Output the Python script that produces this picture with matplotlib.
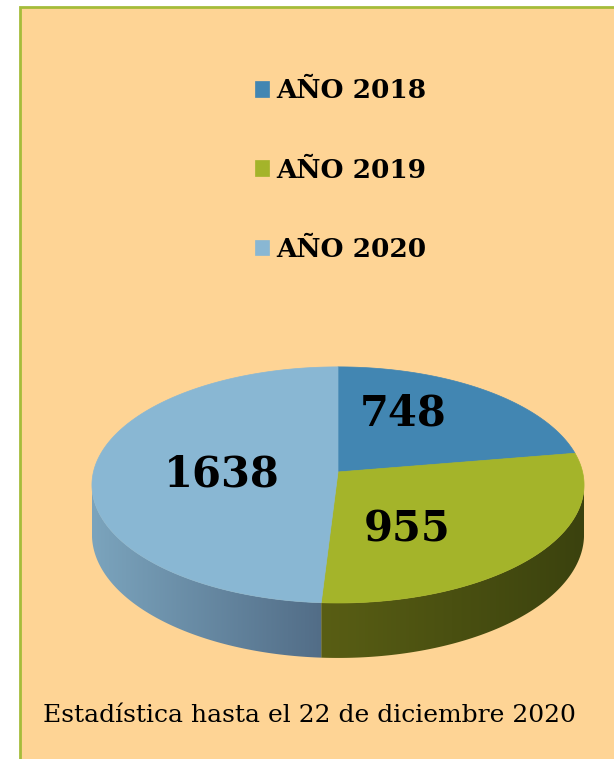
import numpy as np
import matplotlib.pyplot as plt
from matplotlib.patches import Polygon, Rectangle
from matplotlib.colors import LinearSegmentedColormap

# Datos
years = ['AÑO 2018', 'AÑO 2019', 'AÑO 2020']
counts = [748, 955, 1638]
note = 'Estadística hasta el 22 de diciembre 2020'

# Estilo
top_colors = ['#4286B2', '#A4B42A', '#89B7D3']
side_colors = [('#2E5F80', '#234A63'), ('#595E14', '#3B420E'), ('#7BA4BD', '#526D87')]
label_pos = [(0.266, 0.241), (0.282, -0.237), (-0.474, -0.012)]
s = 0.477      # inclinacion del disco
k = 0.11       # perspectiva
depth = 0.2    # grosor del disco

plt.rcParams['font.family'] = 'DejaVu Serif'

fig = plt.figure(figsize=(6.14, 7.59), dpi=100)
fig.patch.set_facecolor('white')

# Marco de fondo
fig.patches.append(Rectangle((19.5 / 614, -0.05), 1.0, 1.05 - 6.5 / 759,
                             transform=fig.transFigure, facecolor='#FED495',
                             edgecolor='#A5BC3A', lw=2, zorder=-1))

ax = fig.add_axes([91 / 614, 1 - 659 / 759, 494 / 614, 293.4 / 759])
ax.set_facecolor('none')
ax.set_zorder(1)


def rim(theta_deg):
    t = np.radians(theta_deg)
    w = 1 + k * np.sin(t)
    return np.cos(t) / w, s * np.sin(t) / w, w


fracs = np.array(counts) / sum(counts)
bounds = 90 - 360 * np.concatenate([[0], np.cumsum(fracs)])

# limites visibles de la pared (puntos mas anchos del borde)
edge = np.degrees(np.arcsin(k))
left_lim, right_lim = -180 + edge, -edge

# Paredes laterales (solo la parte delantera)
for i in range(len(counts)):
    start, end = bounds[i], bounds[i + 1]
    lo, hi = max(end, left_lim), min(start, right_lim)
    if lo >= hi:
        continue
    xs, ys, w = rim(np.linspace(lo, hi, 150))
    yb = ys - depth / w
    pts = np.vstack([np.column_stack([xs, ys]),
                     np.column_stack([xs[::-1], yb[::-1]])])
    poly = Polygon(pts, closed=True, fill=False, lw=0)
    ax.add_patch(poly)
    cmap = LinearSegmentedColormap.from_list('side%d' % i, side_colors[i])
    grad = np.linspace(0, 1, 256).reshape(1, -1)
    im = ax.imshow(grad, cmap=cmap, aspect='auto', interpolation='bilinear',
                   extent=(xs.min(), xs.max(), yb.min(), ys.max()))
    im.set_clip_path(poly)

# Cara superior
tops = []
for i in range(len(counts)):
    xs, ys, _ = rim(np.linspace(bounds[i], bounds[i + 1], 200))
    pts = np.vstack([[0, 0], np.column_stack([xs, ys])])
    p = Polygon(pts, closed=True, facecolor=top_colors[i],
                edgecolor=top_colors[i], lw=0.5)
    ax.add_patch(p)
    tops.append(p)

for (x, y), v in zip(label_pos, counts):
    ax.text(x, y, str(v), ha='center', va='center', fontsize=30,
            fontweight='bold', color='black')

ax.set_xlim(-1.01, 1.01)
ax.set_ylim(-0.765, 0.435)
ax.axis('off')

# Leyenda
fig.legend(tops, years, loc='center left', bbox_to_anchor=(255 / 614, 1 - 170 / 759),
           frameon=False, prop={'weight': 'bold', 'size': 19},
           handlelength=0.52, handleheight=0.52, handletextpad=0.3,
           labelspacing=2.05, borderpad=0, borderaxespad=0)

fig.text(309.5 / 614, 1 - 722 / 759, note, ha='center', va='baseline',
         fontsize=18, color='black')

fig.savefig('out.png', dpi=100, facecolor=fig.get_facecolor())
